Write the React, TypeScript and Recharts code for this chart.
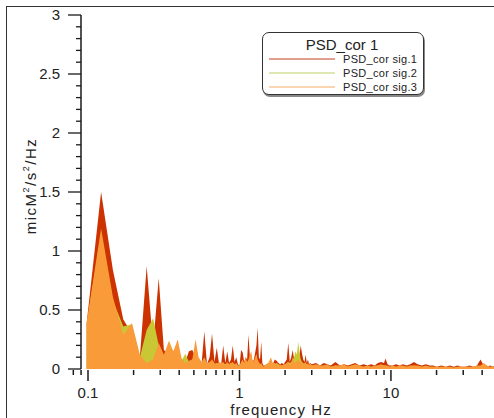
import { Area, AreaChart, Legend, XAxis, YAxis } from 'recharts'

// frequency bins (Hz); fine bins below 3 Hz, sparser above
const freqs = [
  0.098, 0.122, 0.146, 0.171, 0.195, 0.22, 0.244, 0.269, 0.293, 0.317, 0.342, 0.366, 0.391, 0.415, 0.439,
  0.464, 0.488, 0.513, 0.537, 0.562, 0.586, 0.61, 0.635, 0.659, 0.684, 0.708, 0.732, 0.757, 0.781, 0.806,
  0.83, 0.854, 0.879, 0.903, 0.928, 0.952, 0.977, 1.001, 1.025, 1.05, 1.074, 1.099, 1.123, 1.147, 1.172,
  1.196, 1.221, 1.245, 1.27, 1.294, 1.318, 1.343, 1.367, 1.392, 1.416, 1.44, 1.465,
  1.514, 1.563, 1.611, 1.66, 1.709, 1.758, 1.807, 1.855, 1.904, 1.953, 2.002, 2.051, 2.1, 2.148, 2.197,
  2.246, 2.295, 2.344, 2.393, 2.441, 2.49, 2.539, 2.588, 2.637, 2.686, 2.734, 2.783, 2.832, 2.881, 2.93,
  3.0, 3.2, 3.4, 3.6, 3.8, 4.0, 4.3, 4.6, 4.9, 5.2, 5.5, 5.8, 6.2, 6.6, 7.0, 7.4, 7.8, 8.2, 8.6, 9.0,
  9.2, 9.5, 9.8, 10.3, 10.8, 11.4, 12, 12.7, 13.4, 14.2, 15, 16, 17, 18, 19, 20, 21.5, 23, 24.5, 26,
  27.5, 29, 31, 33, 35, 37, 39, 41, 43, 45, 47, 49,
]

const sig1 = [
  0.39, 1.5, 0.84, 0.42, 0.3, 0.1, 0.87, 0.2, 0.77, 0.16, 0.12, 0.1, 0.12, 0.08, 0.06,
  0.15, 0.16, 0.1, 0.08, 0.04, 0.32, 0.04, 0.1, 0.3, 0.06, 0.18, 0.05, 0.04, 0.2, 0.05,
  0.15, 0.05, 0.08, 0.2, 0.06, 0.1, 0.04, 0.03, 0.16, 0.14, 0.06, 0.1, 0.08, 0.29, 0.1,
  0.12, 0.06, 0.08, 0.14, 0.2, 0.35, 0.1, 0.08, 0.23, 0.05, 0.03, 0.03,
  0.04, 0.05, 0.06, 0.04, 0.08, 0.07, 0.05, 0.04, 0.05, 0.04, 0.06, 0.08, 0.22, 0.06, 0.1,
  0.16, 0.08, 0.06, 0.08, 0.1, 0.12, 0.2, 0.13, 0.08, 0.06, 0.12, 0.05, 0.08, 0.04, 0.05,
  0.04, 0.05, 0.03, 0.05, 0.04, 0.03, 0.06, 0.03, 0.04, 0.03, 0.04, 0.05, 0.03, 0.04, 0.03, 0.04, 0.03, 0.05, 0.06, 0.05,
  0.09, 0.04, 0.03, 0.03, 0.04, 0.03, 0.04, 0.03, 0.04, 0.06, 0.04, 0.03, 0.04, 0.03, 0.03, 0.02, 0.03, 0.02, 0.03, 0.02,
  0.03, 0.02, 0.02, 0.03, 0.02, 0.03, 0.08, 0.03, 0.02, 0.03, 0.02, 0.03,
]

const sig2 = [
  0.38, 1.15, 0.58, 0.36, 0.38, 0.1, 0.33, 0.43, 0.2, 0.08, 0.1, 0.08, 0.1, 0.07, 0.13,
  0.06, 0.08, 0.1, 0.06, 0.05, 0.06, 0.04, 0.05, 0.05, 0.04, 0.05, 0.04, 0.03, 0.05, 0.04,
  0.05, 0.04, 0.05, 0.04, 0.03, 0.04, 0.03, 0.03, 0.05, 0.05, 0.04, 0.06, 0.05, 0.06, 0.05,
  0.08, 0.04, 0.05, 0.05, 0.06, 0.06, 0.05, 0.04, 0.04, 0.03, 0.02, 0.02,
  0.03, 0.03, 0.04, 0.03, 0.04, 0.05, 0.04, 0.03, 0.03, 0.03, 0.04, 0.05, 0.06, 0.05, 0.06,
  0.08, 0.1, 0.15, 0.12, 0.23, 0.14, 0.08, 0.06, 0.05, 0.04, 0.04, 0.04, 0.04, 0.03, 0.04,
  0.03, 0.03, 0.02, 0.03, 0.03, 0.02, 0.03, 0.02, 0.03, 0.02, 0.03, 0.03, 0.02, 0.02, 0.02, 0.02, 0.02, 0.03, 0.03, 0.03,
  0.03, 0.02, 0.02, 0.02, 0.02, 0.02, 0.02, 0.02, 0.02, 0.03, 0.02, 0.02, 0.02, 0.02, 0.02, 0.01, 0.02, 0.01, 0.02, 0.01,
  0.02, 0.01, 0.01, 0.02, 0.01, 0.02, 0.02, 0.02, 0.02, 0.02, 0.01, 0.02,
]

const sig3 = [
  0.39, 1.19, 0.61, 0.29, 0.39, 0.12, 0.05, 0.08, 0.22, 0.12, 0.24, 0.15, 0.25, 0.09, 0.05,
  0.07, 0.08, 0.25, 0.1, 0.06, 0.1, 0.05, 0.06, 0.08, 0.05, 0.04, 0.06, 0.05, 0.06, 0.03,
  0.06, 0.04, 0.05, 0.06, 0.04, 0.05, 0.03, 0.02, 0.06, 0.08, 0.05, 0.1, 0.06, 0.08, 0.12,
  0.15, 0.06, 0.07, 0.1, 0.13, 0.08, 0.06, 0.04, 0.05, 0.03, 0.02, 0.03,
  0.04, 0.06, 0.1, 0.05, 0.05, 0.04, 0.03, 0.04, 0.03, 0.04, 0.04, 0.05, 0.06, 0.04, 0.05,
  0.1, 0.06, 0.05, 0.07, 0.08, 0.06, 0.07, 0.05, 0.04, 0.05, 0.06, 0.04, 0.05, 0.03, 0.05,
  0.03, 0.04, 0.03, 0.03, 0.04, 0.02, 0.03, 0.03, 0.04, 0.02, 0.03, 0.04, 0.03, 0.02, 0.03, 0.02, 0.03, 0.03, 0.04, 0.03,
  0.03, 0.03, 0.02, 0.03, 0.02, 0.03, 0.03, 0.02, 0.03, 0.03, 0.03, 0.02, 0.03, 0.02, 0.02, 0.02, 0.02, 0.02, 0.02, 0.01,
  0.02, 0.02, 0.02, 0.02, 0.02, 0.03, 0.03, 0.05, 0.03, 0.02, 0.02, 0.02,
]

const xTicks = [0.08, 0.09, 0.1, 0.2, 0.3, 0.4, 0.5, 0.6, 0.7, 0.8, 0.9, 1, 2, 3, 4, 5, 6, 7, 8, 9, 10, 20, 30, 40]
const xLabelTicks = [0.1, 1, 10]
const yTicks = [
  0, 0.1, 0.2, 0.3, 0.4, 0.5, 0.6, 0.7, 0.8, 0.9, 1, 1.1, 1.2, 1.3, 1.4, 1.5, 1.6, 1.7, 1.8, 1.9, 2,
  2.1, 2.2, 2.3, 2.4, 2.5, 2.6, 2.7, 2.8, 2.9, 3,
]
const yLabelTicks = [0, 0.5, 1, 1.5, 2, 2.5, 3]

const seriesNames = ['PSD_cor sig.1', 'PSD_cor sig.2', 'PSD_cor sig.3']
const seriesColors = ['#cc3300', '#c9c834', '#f99b38']
const legendColors = ['#c8401c', '#c4d064', '#f8aa66']

const data = freqs.map((f, i) => ({ f, sig1: sig1[i], sig2: sig2[i], sig3: sig3[i] }))

const FONT = '"Liberation Sans", Arial, Helvetica, sans-serif'

function XTick({ x, y, payload }: any) {
  const v = payload.value
  const major = xLabelTicks.includes(v)
  return (
    <g>
      <line x1={x} x2={x} y1={y + 1} y2={y + (major ? 12 : 6)} stroke="#1a1a1a" strokeWidth={1.5} />
      {major && (
        <text x={x} y={y + 29} textAnchor="middle" fontSize={15} fill="#222" fontFamily={FONT}>
          {v}
        </text>
      )}
    </g>
  )
}

function YTick({ x, y, payload }: any) {
  const v = payload.value
  const major = yLabelTicks.includes(v)
  return (
    <g>
      <line x1={x - (major ? 13 : 5)} x2={x} y1={y} y2={y} stroke="#1a1a1a" strokeWidth={1.3} />
      {major && (
        <text x={x - 21} y={y + 5} textAnchor="end" fontSize={15} fill="#222" fontFamily={FONT}>
          {v}
        </text>
      )}
    </g>
  )
}

function LegendBox() {
  return (
    <div
      style={{
        position: 'relative',
        width: 162,
        height: 63,
        boxSizing: 'border-box',
        border: '1.5px solid #333',
        borderRadius: 7,
        background: '#fff',
        boxShadow: '1px 2px 0 #888',
      }}
    >
      <svg width={162} height={63} style={{ position: 'absolute', left: -1.5, top: -1.5 }}>
        <text x={80} y={18} textAnchor="middle" fontSize={15} fill="#222" fontFamily={FONT}>
          PSD_cor 1
        </text>
        {seriesNames.map((name, i) => (
          <g key={name}>
            <line x1={7} x2={73} y1={27 + i * 14} y2={27 + i * 14} stroke={legendColors[i]} strokeWidth={1.2} />
            <text x={81} y={31 + i * 14} fontSize={11} letterSpacing={0.3} fill="#222" fontFamily={FONT}>
              {name}
            </text>
          </g>
        ))}
      </svg>
    </div>
  )
}

export default function App() {
  return (
    <div
      style={{
        position: 'absolute',
        left: 0,
        top: 0,
        width: 494,
        height: 418,
        overflow: 'hidden',
        background: '#fff',
        fontFamily: FONT,
      }}
    >
      <div
        style={{
          position: 'absolute',
          left: 6,
          top: 6,
          width: 700,
          height: 700,
          borderTop: '1.5px solid #333',
          borderLeft: '1.5px solid #333',
        }}
      />
      <AreaChart width={494} height={418} data={data} margin={{ top: 15, right: 0, bottom: 0, left: 0 }}>
        <XAxis
          dataKey="f"
          type="number"
          scale="log"
          domain={[0.0899, 47.9]}
          allowDataOverflow
          ticks={xTicks}
          interval={0}
          tickSize={0}
          tickMargin={0}
          axisLine={false}
          tickLine={false}
          height={49}
          tick={<XTick />}
        />
        <YAxis
          type="number"
          domain={[0, 3]}
          ticks={yTicks}
          interval={0}
          width={81}
          tickSize={0}
          tickMargin={0}
          tickLine={false}
          axisLine={{ stroke: '#1a1a1a', strokeWidth: 1.5 }}
          tick={<YTick />}
        />
        <Legend
          layout="vertical"
          align="center"
          verticalAlign="middle"
          content={() => <LegendBox />}
          wrapperStyle={{ left: 262, top: 32, width: 162, height: 63 }}
        />
        {(['sig1', 'sig2', 'sig3'] as const).map((key, i) => (
          <Area
            key={key}
            dataKey={key}
            name={seriesNames[i]}
            type="linear"
            stroke="none"
            fill={seriesColors[i]}
            fillOpacity={1}
            isAnimationActive={false}
          />
        ))}
      </AreaChart>
      <svg width={494} height={418} style={{ position: 'absolute', left: 0, top: 0, pointerEvents: 'none' }}>
        <text x={281} y={415} textAnchor="middle" fontSize={15} letterSpacing={1.1} fill="#222" fontFamily={FONT}>
          frequency Hz
        </text>
        <text
          transform="translate(36 186) rotate(-90)"
          textAnchor="middle"
          fontSize={15}
          letterSpacing={1.5}
          fill="#222"
          fontFamily={FONT}
        >
          micM<tspan dy={-7} fontSize={9}>2</tspan>
          <tspan dy={7}>/s</tspan>
          <tspan dy={-7} fontSize={9}>2</tspan>
          <tspan dy={7}>/Hz</tspan>
        </text>
      </svg>
    </div>
  )
}
